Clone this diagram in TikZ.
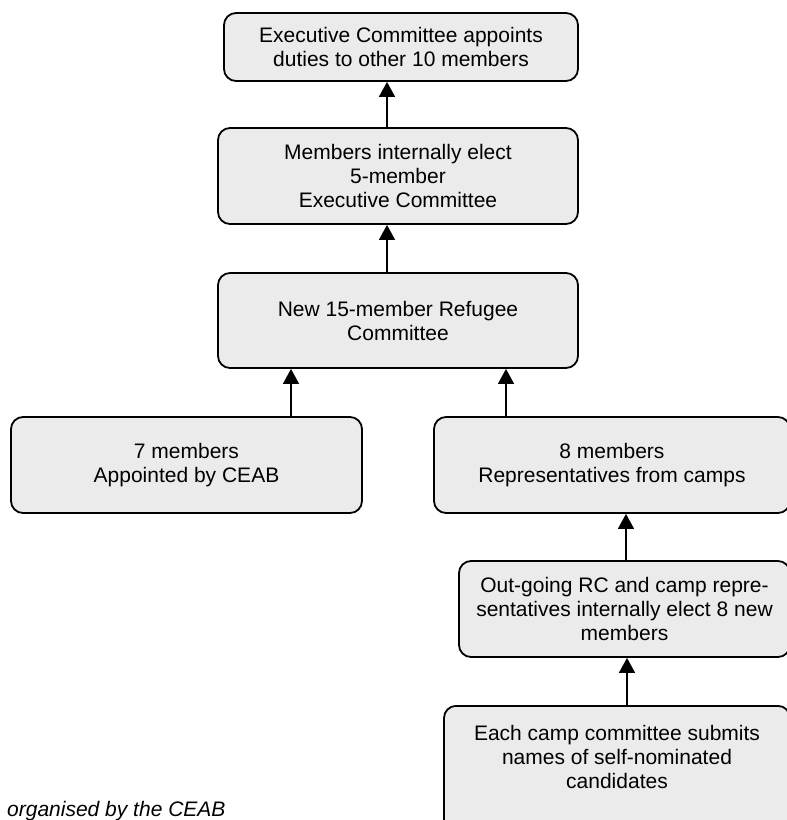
\documentclass[tikz,border=0pt]{standalone}
\usepackage{fontspec}
\setmainfont{Liberation Sans}
\usetikzlibrary{arrows.meta}

\tikzset{
  stagebox/.style={draw, line width=1.8pt, rounded corners=12pt, fill=gray!16,
    align=center, inner sep=4pt, font=\fontsize{21}{24}\selectfont},
  uparrow/.style={line width=1.6pt, -{Triangle[width=16pt,length=15pt]}}
}

\begin{document}
\begin{tikzpicture}[x=1pt,y=-1pt]
\useasboundingbox (0,0) rectangle (787,820);
\clip (0,0) rectangle (787,820);
\path (401,47) node[stagebox, minimum width=354, minimum height=68] (duties)
  {Executive Committee appoints\\duties to other 10 members}
(398,176) node[stagebox, minimum width=360, minimum height=96] (exec)
  {Members internally elect\\5-member\\Executive Committee}
(398,320.5) node[stagebox, minimum width=360, minimum height=95] (rc)
  {New 15-member Refugee\\Committee}
(186.5,465) node[stagebox, minimum width=351, minimum height=96] (ceab)
  {7 members\\Appointed by CEAB}
(612,465) node[stagebox, minimum width=356, minimum height=96] (camps)
  {8 members\\Representatives from camps}
(624.5,609) node[stagebox, minimum width=331, minimum height=96] (elect)
  {Out-going RC and camp repre-\\sentatives internally elect 8 new\\members}
(617,705) node[stagebox, anchor=north, minimum width=346, minimum height=165] (submit)
  {Each camp committee submits\\names of self-nominated\\candidates\\[40pt]\mbox{}};
\draw[uparrow] (387,0 |- exec.north) -- (387,0 |- duties.south);
\draw[uparrow] (387,0 |- rc.north) -- (387,0 |- exec.south);
\draw[uparrow] (291,0 |- ceab.north) -- (291,0 |- rc.south);
\draw[uparrow] (506,0 |- camps.north) -- (506,0 |- rc.south);
\draw[uparrow] (626,0 |- elect.north) -- (626,0 |- camps.south);
\draw[uparrow] (627,0 |- submit.north) -- (627,0 |- elect.south);
\node[anchor=base west, inner sep=0pt, font=\fontsize{21}{24}\selectfont\itshape] (note)
  at (7,816) {organised by the CEAB};
\end{tikzpicture}
\end{document}
